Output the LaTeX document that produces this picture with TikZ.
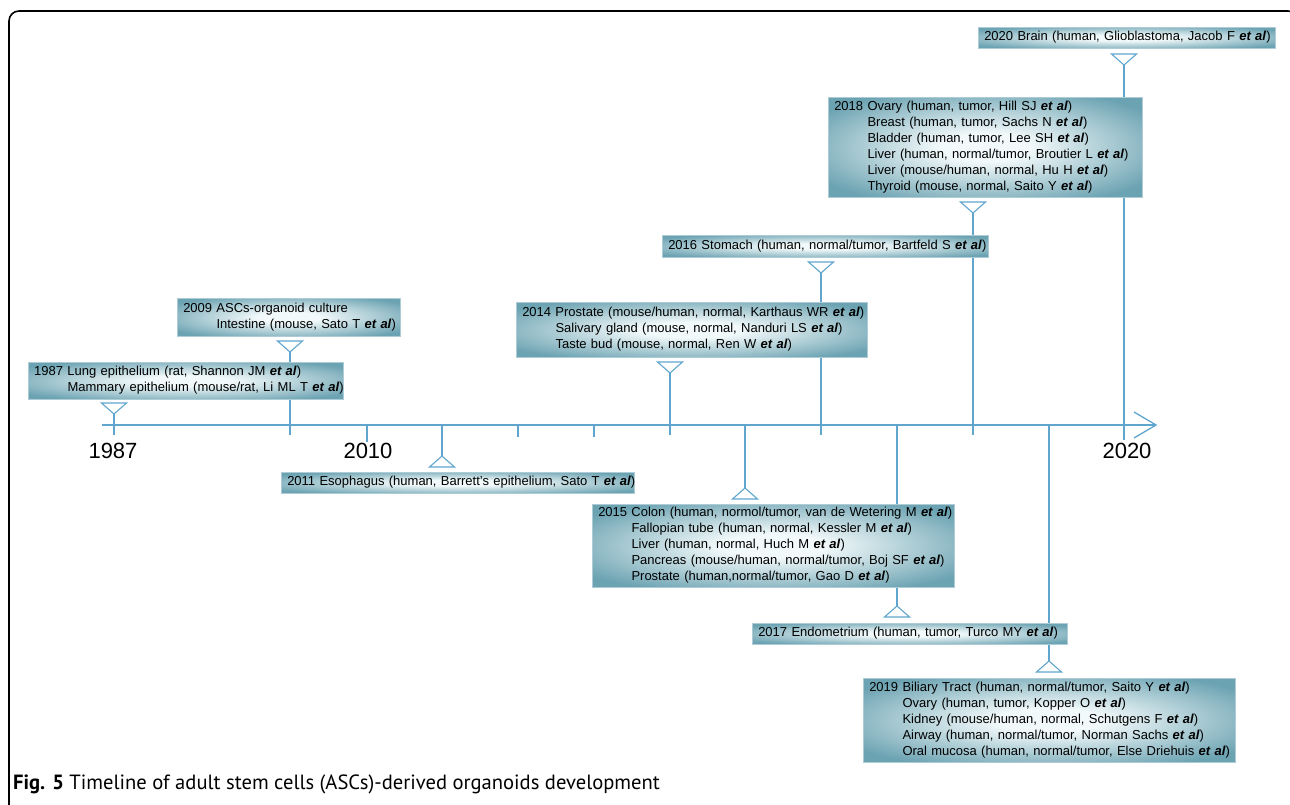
\documentclass[tikz,border=0pt]{standalone}
\usepackage{fontspec}
\setmainfont{Liberation Sans}
\newfontfamily\capfont{PT Sans}
\definecolor{tealc}{RGB}{108,163,178}
\definecolor{glowc}{RGB}{242,249,250}
\definecolor{linec}{RGB}{95,165,205}
\pgfdeclareradialshading{glow}{\pgfpoint{0bp}{0bp}}{color(0bp)=(glowc); color(7bp)=(glowc); color(31bp)=(tealc); color(50bp)=(tealc)}
\newcommand\etal{\textbf{\textit{et al}}}
\newcommand\evtext[1]{\begin{tabular}{@{}l@{\ }l@{}}#1\end{tabular}}
\tikzset{
  tbox/.style={anchor=north west, shade, shading=glow,
    draw=tealc!55!white, line width=0.5pt, inner xsep=6pt, inner ysep=0pt,
    font=\fontsize{13}{16}\selectfont, text width=#1},
  tl/.style={draw=linec, line width=1.3pt},
  tri/.style={draw=linec, line width=1.1pt, line join=miter},
  yr/.style={font=\fontsize{22}{24}\selectfont, anchor=base},
}
\newcommand\dtri[2]{\draw[tri] (#1-12.5,#2) -- (#1+12.5,#2) -- (#1,#2+11) -- cycle;}
\newcommand\utri[2]{\draw[tri] (#1,#2) -- (#1+12.5,#2+11) -- (#1-12.5,#2+11) -- cycle;}
\begin{document}
\begin{tikzpicture}[x=1pt,y=-1pt]
\useasboundingbox (0,0) rectangle (1290,805);
% frame
\begin{scope}
\clip (0,0) rectangle (1290,805);
\draw[black, line width=1.6pt, rounded corners=10pt] (9,11) rectangle (1298,840);
\end{scope}
% axis
\coordinate (axL) at (102,425);
\coordinate (axR) at (1156,425);
\draw[tl] (axL) -- (axR);
\draw[tl] (1134,412) -- (axR) -- (1134,438);
% events above axis
\foreach \n/\x/\t/\e in {1987/114/403/435, 2009/290/341/435, 2014/670/362/435,
  2016/821/262/435, 2018/973/202/435, 2020/1124/54/440}{
  \coordinate (apex-\n) at (\x,\t+11);
  \coordinate (tick-\n) at (\x,\e);
  \draw[tl] (apex-\n) -- (tick-\n);
  \dtri{\x}{\t}
}
% events below axis
\foreach \n/\x/\a in {2011/442/456, 2015/745/488, 2017/897/606, 2019/1049/661}{
  \coordinate (apex-\n) at (\x,\a);
  \coordinate (tick-\n) at (\x,425);
  \draw[tl] (tick-\n) -- (apex-\n);
  \utri{\x}{\a}
}
% short ticks
\foreach \n/\x/\e in {2010/367/442, 2012/518/437, 2013/594/437}{
  \coordinate (s-\n) at (\x,425);
  \coordinate (se-\n) at (\x,\e);
  \draw[tl] (s-\n) -- (se-\n);
}
% year labels
\node[yr] (y1987) at (113,458) {1987};
\node[yr] (y2010) at (368,458) {2010};
\node[yr] (y2020) at (1127,458) {2020};
% boxes
\node[tbox=303pt, minimum height=37pt] (b1987) at (28,362) {\evtext{1987 & Lung epithelium (rat, Shannon JM \etal)\\ & Mammary epithelium (mouse/rat, Li ML T \etal)}};
\node[tbox=211pt, minimum height=38pt] (b2009) at (177,298) {\evtext{2009 & ASCs-organoid culture\\ & Intestine (mouse, Sato T \etal)}};
\node[tbox=341pt, minimum height=21pt] (b2011) at (281,472) {\evtext{2011 & Esophagus (human, Barrett's epithelium, Sato T \etal)}};
\node[tbox=339pt, minimum height=55pt] (b2014) at (516,302) {\evtext{2014 & Prostate (mouse/human, normal, Karthaus WR \etal)\\ & Salivary gland (mouse, normal, Nanduri LS \etal)\\ & Taste bud (mouse, normal, Ren W \etal)}};
\node[tbox=350pt, minimum height=83pt] (b2015) at (592,504) {\evtext{2015 & Colon (human, normol/tumor, van de Wetering M \etal)\\ & Fallopian tube (human, normal, Kessler M \etal)\\ & Liver (human, normal, Huch M \etal)\\ & Pancreas (mouse/human, normal/tumor, Boj SF \etal)\\ & Prostate (human,normal/tumor, Gao D \etal)}};
\node[tbox=314pt, minimum height=22pt] (b2016) at (662,235) {\evtext{2016 & Stomach (human, normal/tumor, Bartfeld S \etal)}};
\node[tbox=303pt, minimum height=21pt] (b2017) at (752,623) {\evtext{2017 & Endometrium (human, tumor, Turco MY \etal)}};
\node[tbox=302pt, minimum height=100pt] (b2018) at (828,97) {\evtext{2018 & Ovary (human, tumor, Hill SJ \etal)\\ & Breast (human, tumor, Sachs N \etal)\\ & Bladder (human, tumor, Lee SH \etal)\\ & Liver (human, normal/tumor, Broutier L \etal)\\ & Liver (mouse/human, normal, Hu H \etal)\\ & Thyroid (mouse, normal, Saito Y \etal)}};
\node[tbox=360pt, minimum height=84pt] (b2019) at (863,678) {\evtext{2019 & Biliary Tract (human, normal/tumor, Saito Y \etal)\\ & Ovary (human, tumor, Kopper O \etal)\\ & Kidney (mouse/human, normal, Schutgens F \etal)\\ & Airway (human, normal/tumor, Norman Sachs \etal)\\ & Oral mucosa (human, normal/tumor, Else Driehuis \etal)}};
\node[tbox=285pt, minimum height=21pt] (b2020) at (978,27) {\evtext{2020 & Brain (human, Glioblastoma, Jacob F \etal)}};
% caption
\node[anchor=base west, inner sep=0pt, font=\capfont\fontsize{20.6}{22}\selectfont] (cap) at (13,789) {\textbf{Fig. 5} Timeline of adult stem cells (ASCs)-derived organoids development};
\end{tikzpicture}
\end{document}
